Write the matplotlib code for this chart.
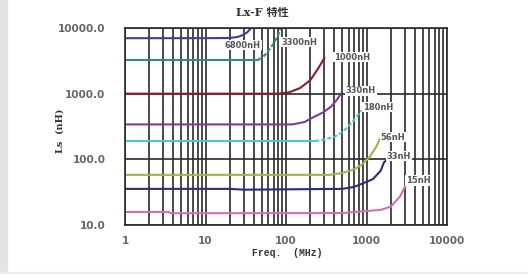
import numpy as np
import matplotlib.pyplot as plt
from matplotlib.patches import Rectangle
from matplotlib.ticker import FixedLocator, NullFormatter, LogLocator

# Inductance vs frequency, one curve per part value
names = ["6800nH", "3300nH", "1000nH", "330nH", "180nH", "56nH", "33nH", "15nH"]

f6800 = [1, 10, 20, 25, 29, 33, 37]
L6800 = [7000, 7000, 7050, 7300, 7800, 8600, 10000]
f3300 = [1, 45, 50, 55, 62, 70, 80, 86]
L3300 = [3300, 3300, 3500, 3900, 4700, 5800, 7800, 10000]
f1000 = [1, 80, 110, 150, 200, 250, 300]
L1000 = [1000, 1000, 1050, 1220, 1600, 2400, 3500]
f330 = [1, 120, 170, 220, 290, 360, 420, 480]
L330 = [340, 340, 370, 440, 520, 630, 780, 1000]
f180 = [1, 230, 300, 400, 500, 600, 700, 870]
L180 = [190, 190, 200, 220, 260, 320, 400, 560]
f56 = [1, 350, 500, 700, 900, 1100, 1300, 1470]
L56 = [58, 58, 62, 70, 85, 110, 150, 205]
f33 = [1, 20, 30, 500, 700, 900, 1200, 1500, 1650, 1800]
L33 = [35.5, 35.5, 34.5, 35.5, 38, 43, 50, 67, 90, 100]
f15 = [1, 3.5, 3.7, 500, 1000, 1500, 2000, 2600, 3100]
L15 = [15.8, 15.8, 15.1, 15.2, 16.3, 17, 19, 27, 41]

freqs = [f6800, f3300, f1000, f330, f180, f56, f33, f15]
inds = [L6800, L3300, L1000, L330, L180, L56, L33, L15]
colors = ["#3c3ca0", "#2a9080", "#8c1c30", "#7b3c9c", "#50c8c8", "#a8b048", "#2c2c7c", "#d070b0"]
# index where the rising part is drawn dashed (None = solid)
dash_from = [None, 1, None, None, 1, None, None, None]
label_pos = [(29, 5500), (145, 6100), (661, 3600), (855, 1100), (1390, 625),
             (2130, 218), (2530, 112), (4360, 48)]

fig = plt.figure(figsize=(5.28, 2.74), dpi=100)
fig.patches.append(Rectangle((0, 0), 7/528, 1, transform=fig.transFigure, color="#e4e4e4", zorder=0))
fig.patches.append(Rectangle((0, 0), 1, 2/274, transform=fig.transFigure, color="#ececec", zorder=0))
ax = fig.add_axes([125/528, 1-225/274, 322/528, 197/274])

ax.set_xscale("log")
ax.set_yscale("log")
ax.set_xlim(1, 10000)
ax.set_ylim(10, 10000)

ax.xaxis.set_major_locator(FixedLocator([1, 10, 100, 1000, 10000]))
ax.xaxis.set_minor_locator(LogLocator(base=10, subs=np.arange(2, 10)))
ax.xaxis.set_minor_formatter(NullFormatter())
ax.yaxis.set_major_locator(FixedLocator([10, 100, 1000, 10000]))
ax.yaxis.set_minor_locator(FixedLocator([]))
ax.set_xticklabels(["1", "10", "100", "1000", "10000"])
ax.set_yticklabels(["10.0", "100.0", "1000.0", "10000.0"])
ax.tick_params(which="both", length=0)
ax.tick_params(axis="x", pad=8)
ax.tick_params(axis="y", pad=14)
for lab in ax.get_xticklabels() + ax.get_yticklabels():
    lab.set_fontsize(7.5)
    lab.set_fontweight("bold")
    lab.set_color("#666666")

ax.grid(True, axis="x", which="both", color="#2a2a2a", lw=1.2)
ax.grid(True, axis="y", which="major", color="#2a2a2a", lw=1.2)
ax.set_axisbelow(True)
for s in ax.spines.values():
    s.set_color("#2a2a2a")
    s.set_linewidth(1.2)

for f, L, c, d in zip(freqs, inds, colors, dash_from):
    if d is None:
        ax.plot(f, L, color=c, lw=1.5)
    else:
        ax.plot(f[:d+1], L[:d+1], color=c, lw=1.5)
        ax.plot(f[d:], L[d:], color=c, lw=1.5, ls=(0, (2, 1)))

for name, (x, y) in zip(names, label_pos):
    ax.text(x, y, name, fontsize=6, color="#555555", ha="center", va="center",
            fontweight="bold", bbox=dict(facecolor="white", edgecolor="none", pad=0.6))

fig.text(262/528, 1-12/274, "Lx-F 特性", ha="center", va="center", fontsize=8,
         fontweight="bold", family=["DejaVu Serif", "Noto Sans CJK SC"], color="#333333")
fig.text(287/528, 1-253/274, "Freq.  (MHz)", ha="center", va="center", fontsize=7,
         fontweight="bold", family="Liberation Mono", color="#333333")
fig.text(60/528, 1-131/274, "Ls  (nH)", ha="center", va="center", fontsize=7,
         rotation=90, fontweight="bold", family="DejaVu Serif", color="#333333")

fig.savefig("out.png", dpi=100)
